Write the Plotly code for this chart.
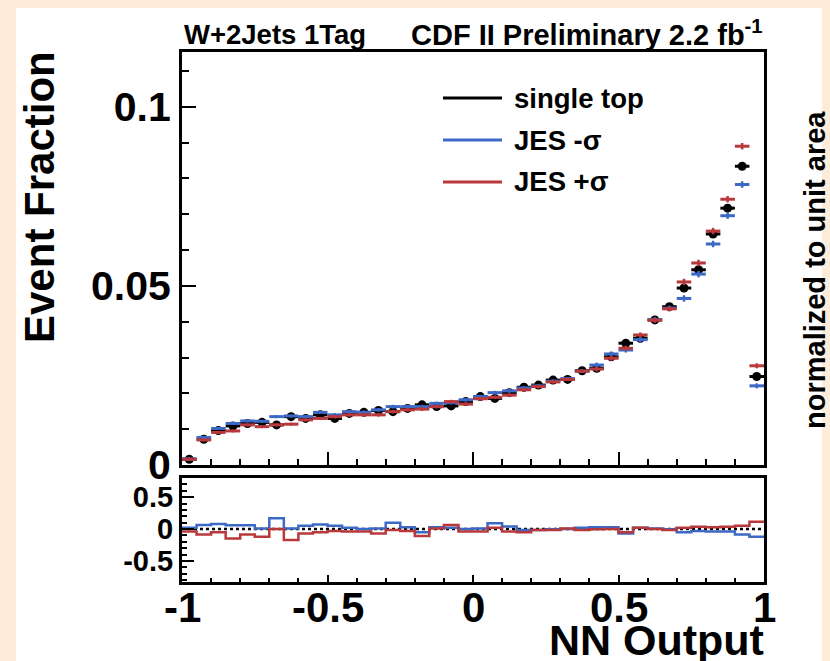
import plotly.graph_objects as go

# NN output binning: 40 bins from -1 to 1
bin_edges = [-1.0 + 0.05 * i for i in range(41)]
bin_centers = [round((bin_edges[i] + bin_edges[i + 1]) / 2, 4) for i in range(40)]

# Normalised event fractions per bin
single_top = [0.0016, 0.0072, 0.0096, 0.0109, 0.0116, 0.0119, 0.0112, 0.0135, 0.0130, 0.0140,
              0.0130, 0.0144, 0.0147, 0.0152, 0.0149, 0.0158, 0.0168, 0.0163, 0.0165, 0.0177,
              0.0191, 0.0186, 0.0202, 0.0217, 0.0223, 0.0237, 0.0239, 0.0263, 0.0270, 0.0302,
              0.0340, 0.0354, 0.0405, 0.0442, 0.0494, 0.0545, 0.0645, 0.0717, 0.0834, 0.0247]
jes_minus = [0.0017, 0.0077, 0.0102, 0.0116, 0.0123, 0.0122, 0.0135, 0.0137, 0.0135, 0.0147,
             0.0140, 0.0149, 0.0147, 0.0154, 0.0163, 0.0163, 0.0163, 0.0172, 0.0174, 0.0182,
             0.0191, 0.0202, 0.0207, 0.0215, 0.0221, 0.0234, 0.0241, 0.0262, 0.0279, 0.0310,
             0.0321, 0.0350, 0.0406, 0.0438, 0.0465, 0.0533, 0.0617, 0.0696, 0.0783, 0.0221]
jes_plus = [0.0016, 0.0070, 0.0091, 0.0095, 0.0112, 0.0107, 0.0112, 0.0114, 0.0126, 0.0130,
            0.0135, 0.0140, 0.0140, 0.0140, 0.0149, 0.0154, 0.0156, 0.0163, 0.0177, 0.0170,
            0.0185, 0.0189, 0.0195, 0.0210, 0.0219, 0.0232, 0.0239, 0.0262, 0.0268, 0.0298,
            0.0326, 0.0363, 0.0404, 0.0436, 0.0511, 0.0564, 0.0653, 0.0742, 0.0890, 0.0277]
stat_err = [0.0004, 0.0004, 0.0004, 0.0004, 0.0004, 0.0004, 0.0004, 0.0004, 0.0004, 0.0004,
            0.0005, 0.0005, 0.0005, 0.0005, 0.0005, 0.0005, 0.0005, 0.0005, 0.0005, 0.0005,
            0.0005, 0.0005, 0.0005, 0.0005, 0.0005, 0.0005, 0.0005, 0.0005, 0.0007, 0.0007,
            0.0007, 0.0007, 0.0007, 0.0007, 0.0009, 0.0009, 0.0009, 0.0009, 0.0009, 0.0007]

# Relative shift (JES - nominal) / nominal shown in the lower pad
ratio_minus = [0.02, 0.063, 0.079, 0.06, 0.06, 0.01, 0.17, 0.01, 0.05, 0.07,
               0.05, 0.02, 0.0, 0.01, 0.10, 0.03, -0.05, 0.03, 0.02, 0.0,
               0.01, 0.09, 0.04, -0.016, -0.016, -0.005, 0.0, 0.02, 0.03, 0.03,
               -0.07, 0.02, 0.01, -0.005, -0.05, -0.03, -0.04, -0.04, -0.084, -0.12]
ratio_plus = [-0.04, -0.084, -0.05, -0.15, -0.084, -0.12, 0.0, -0.17, -0.07, -0.05,
              -0.03, -0.04, -0.04, -0.07, -0.016, -0.03, -0.11, 0.01, 0.063, -0.04,
              -0.04, 0.02, -0.04, -0.05, -0.016, -0.016, 0.01, -0.016, -0.005, 0.0,
              -0.05, 0.02, 0.0, -0.016, 0.02, 0.037, 0.03, 0.037, 0.05, 0.116]

series_names = ["single top", "JES -\u03c3", "JES +\u03c3"]
main_ticks = [0, 0.05, 0.1]
main_tick_text = ["0", "0.05", "0.1"]
ratio_ticks = [-0.5, 0, 0.5]
ratio_tick_text = ["-0.5", "0", "0.5"]
x_ticks = [-1, -0.5, 0, 0.5, 1]
x_tick_text = ["-1", "-0.5", "0", "0.5", "1"]

BLACK = "#000000"
BLUE = "#3c68c6"
RED = "#b8383c"
FONT = "Liberation Sans"

fig = go.Figure()

half_bin = [0.025] * 40


def hist_points(values, color, marker):
    return go.Scatter(
        x=bin_centers, y=values, mode="markers",
        marker=marker,
        error_x=dict(type="data", array=half_bin, color=color, thickness=3, width=0),
        error_y=dict(type="data", array=stat_err, color=color, thickness=2.5, width=0),
        showlegend=False, xaxis="x", yaxis="y",
    )


fig.add_trace(hist_points(single_top, BLACK, dict(symbol="circle", size=9, color=BLACK)))
fig.add_trace(hist_points(jes_minus, BLUE, dict(size=1, color=BLUE, opacity=0)))
fig.add_trace(hist_points(jes_plus, RED, dict(size=1, color=RED, opacity=0)))

# Lower pad: step histograms of the relative shifts
step_x = bin_edges
fig.add_trace(go.Scatter(x=[-1, 1], y=[0, 0], mode="lines",
                         line=dict(color=BLACK, width=2.5, dash="dot"),
                         showlegend=False, xaxis="x2", yaxis="y2"))
fig.add_trace(go.Scatter(x=step_x, y=ratio_minus + [ratio_minus[-1]], mode="lines",
                         line=dict(color=BLUE, width=2.5, shape="hv"),
                         showlegend=False, xaxis="x2", yaxis="y2"))
fig.add_trace(go.Scatter(x=step_x, y=ratio_plus + [ratio_plus[-1]], mode="lines",
                         line=dict(color=RED, width=2.5, shape="hv"),
                         showlegend=False, xaxis="x2", yaxis="y2"))

W, H = 830, 661
L, R, T, B = 182, 66, 52, 79
PH = H - T - B
PW = W - L - R


def px_x(px):
    return (px - L) / PW


def px_y(py):
    return (H - B - py) / PH


axis_common = dict(showline=True, linecolor=BLACK, linewidth=3, mirror=True,
                   showgrid=False, zeroline=False, ticks="inside", tickcolor=BLACK,
                   tickwidth=2)

fig.update_layout(
    width=W, height=H,
    margin=dict(l=L, r=R, t=T, b=B),
    paper_bgcolor="#fdecd7",
    plot_bgcolor="white",
    xaxis=dict(**axis_common, range=[-1, 1], domain=[0, 1], anchor="y",
               tickmode="array", tickvals=x_ticks, showticklabels=False, ticklen=13,
               minor=dict(tickmode="linear", tick0=-1, dtick=0.1, ticks="inside",
                          ticklen=6, tickwidth=2, tickcolor=BLACK)),
    yaxis=dict(**axis_common, range=[0, 0.1153], domain=[px_y(465), 1], anchor="x",
               tickmode="array", tickvals=main_ticks, ticktext=main_tick_text, ticklen=14,
               tickfont=dict(family=FONT, size=41, color=BLACK, weight="bold"),
               minor=dict(tickmode="linear", tick0=0, dtick=0.01, ticks="inside",
                          ticklen=7, tickwidth=2, tickcolor=BLACK)),
    xaxis2=dict(**axis_common, range=[-1, 1], domain=[0, 1], anchor="y2",
                tickmode="array", tickvals=x_ticks, showticklabels=False, ticklen=7,
                minor=dict(tickmode="linear", tick0=-1, dtick=0.1, ticks="inside",
                           ticklen=4, tickwidth=2, tickcolor=BLACK)),
    yaxis2=dict(**axis_common, range=[-0.83, 0.80], domain=[0, px_y(478)], anchor="x2",
                tickmode="array", tickvals=ratio_ticks, ticktext=ratio_tick_text, ticklen=12,
                tickfont=dict(family=FONT, size=29, color=BLACK, weight="bold"),
                minor=dict(tickmode="linear", tick0=0, dtick=0.1, ticks="inside",
                           ticklen=5, tickwidth=2, tickcolor=BLACK)),
)

# NN output tick labels, placed tight under the lower pad
for xv, lab in zip(x_ticks, x_tick_text):
    fig.add_annotation(text=lab, xref="x2", yref="paper", x=xv, y=px_y(607),
                       xanchor="center", yanchor="middle", showarrow=False,
                       font=dict(family=FONT, size=42, color=BLACK, weight="bold"))

# White canvas panel behind the pads
fig.add_shape(type="rect", xref="paper", yref="paper",
              x0=px_x(16), x1=px_x(822), y0=px_y(700), y1=px_y(8),
              fillcolor="white", line=dict(width=0), layer="below")

# Legend drawn as line samples with labels
legend_rows = [(98, BLACK), (140, BLUE), (182, RED)]
for (ly, col), name in zip(legend_rows, series_names):
    fig.add_shape(type="line", xref="paper", yref="paper",
                  x0=px_x(443), x1=px_x(502), y0=px_y(ly), y1=px_y(ly),
                  line=dict(color=col, width=3))
    fig.add_annotation(text=name, xref="paper", yref="paper", x=px_x(512), y=px_y(ly),
                       xanchor="left", yanchor="middle", showarrow=False,
                       font=dict(family=FONT, size=27.5, color=BLACK, weight="bold"))

text_items = [
    dict(text="W+2Jets 1Tag", x=px_x(182), y=px_y(35), xanchor="left",
         font=dict(family=FONT, size=27.5, color=BLACK, weight="bold")),
    dict(text="CDF II Preliminary 2.2 fb<sup>-1</sup>", x=px_x(409), y=px_y(33), xanchor="left",
         font=dict(family=FONT, size=29, color=BLACK, weight="bold")),
    dict(text="NN Output", x=px_x(766), y=px_y(640), xanchor="right",
         font=dict(family=FONT, size=43, color=BLACK, weight="bold")),
    dict(text="Event Fraction", x=px_x(39), y=px_y(197), xanchor="center", textangle=-90,
         font=dict(family=FONT, size=42, color=BLACK, weight="bold")),
    dict(text="normalized to unit area", x=px_x(815), y=px_y(270), xanchor="center",
         textangle=-90, font=dict(family=FONT, size=29, color=BLACK, weight="bold")),
]
for item in text_items:
    fig.add_annotation(xref="paper", yref="paper", yanchor="middle", showarrow=False, **item)

fig.write_html("out.html")
